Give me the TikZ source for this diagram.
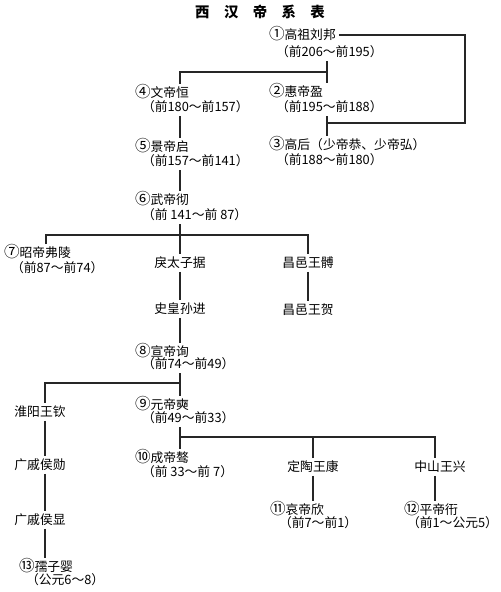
\documentclass[tikz,border=0pt]{standalone}
\usepackage{fontspec}
\newfontfamily\cjk{Noto Sans CJK SC}
\newcommand{\cnum}[1]{\smash{\fontsize{7.8}{7}\selectfont #1}}
\begin{document}
\begin{tikzpicture}[x=0.5pt,y=-0.5pt,
  lbl/.style={font=\cjk\fontsize{6.4}{7}\selectfont, inner sep=0pt, outer sep=1.5pt, anchor=west},
  ctr/.style={lbl, anchor=center},
  ln/.style={line width=0.7pt, black!85}]
\useasboundingbox[fill=white] (0,0) rectangle (500,592);
% title
\node[font=\cjk\bfseries\fontsize{7.2}{8}\selectfont, inner sep=0pt] (title) at (260,12) {西\hspace{1em}汉\hspace{1em}帝\hspace{1em}系\hspace{1em}表};
% column coordinates
\coordinate (colA) at (180,0);
\coordinate (colL) at (46,0);
\coordinate (colL2) at (45,0);
\coordinate (colD) at (435,0);
\coordinate (c3) at (327,123);
\coordinate (rc) at (465,123);
\coordinate (j1) at (327,72);
\coordinate (j6) at (180,235);
\coordinate (j8) at (180,383);
\coordinate (j9) at (180,437);
% nodes
\node[lbl] (n1) at (266,35) {\cnum{①}高祖刘邦};
\node[lbl] (d1) at (273,52) {（前206～前195）};
\node[lbl] (n2) at (266,92) {\cnum{②}惠帝盈};
\node[lbl] (d2) at (273,107) {（前195～前188）};
\node[lbl] (n3) at (266,145) {\cnum{③}高后（少帝恭、少帝弘）};
\node[lbl] (d3) at (273,160) {（前188～前180）};
\node[lbl] (n4) at (132,93) {\cnum{④}文帝恒};
\node[lbl] (d4) at (139,107) {（前180～前157）};
\node[lbl] (n5) at (132,147) {\cnum{⑤}景帝启};
\node[lbl] (d5) at (139,161) {（前157～前141）};
\node[lbl] (n6) at (132,200) {\cnum{⑥}武帝彻};
\node[lbl] (d6) at (139,215) {（前 141～前 87）};
\node[lbl] (n7) at (1,253) {\cnum{⑦}昭帝弗陵};
\node[lbl] (d7) at (8,268) {（前87～前74）};
\node[ctr] (lt) at (180,263) {戾太子据};
\node[ctr] (cy) at (308,263) {昌邑王髆};
\node[ctr] (sh) at (180,309) {史皇孙进};
\node[ctr] (ch) at (308,310) {昌邑王贺};
\node[lbl] (n8) at (132,352) {\cnum{⑧}宣帝询};
\node[lbl] (d8) at (139,364) {（前74～前49）};
\node[ctr] (hy) at (40,412) {淮阳王钦};
\node[lbl] (n9) at (132,405) {\cnum{⑨}元帝奭};
\node[lbl] (d9) at (139,418) {（前49～前33）};
\node[lbl] (n10) at (132,458) {\cnum{⑩}成帝骜};
\node[lbl] (d10) at (139,472) {（前 33～前 7）};
\node[ctr] (dt) at (313,467) {定陶王康};
\node[ctr] (zs) at (440,467) {中山王兴};
\node[lbl] (n11) at (267,510) {\cnum{⑪}哀帝欣};
\node[lbl] (d11) at (276,523) {（前7～前1）};
\node[lbl] (n12) at (401,510) {\cnum{⑫}平帝衎};
\node[lbl] (d12) at (404,523) {（前1～公元5）};
\node[ctr] (gx) at (40,465) {广戚侯勋};
\node[ctr] (gxx) at (40,520) {广戚侯显};
\node[lbl] (n13) at (16,567) {\cnum{⑬}孺子婴};
\node[lbl] (d13) at (23,580) {（公元6～8）};
% connectors
\draw[ln] (n1.east) -| (rc) -- (c3);
\draw[ln] (d1.south -| c3) -- (n2.north -| c3);
\draw[ln] (j1) -| (n4.north -| colA);
\draw[ln] (d2.south -| c3) -- (n3.north -| c3);
\draw[ln] (d4.south -| colA) -- (n5.north -| colA);
\draw[ln] (d5.south -| colA) -- (n6.north -| colA);
\draw[ln] (d6.south -| colA) -- (lt.north);
\draw[ln] (n7.north -| colL) |- (j6) -| (cy.north);
\draw[ln] (lt.south) -- (sh.north);
\draw[ln] (cy.south) -- (ch.north);
\draw[ln] (sh.south) -- (n8.north -| colA);
\draw[ln] (d8.south -| colA) -- (n9.north -| colA);
\draw[ln] (j8) -| (hy.north -| colL2);
\draw[ln] (hy.south -| colL2) -- (gx.north -| colL2);
\draw[ln] (gx.south -| colL2) -- (gxx.north -| colL2);
\draw[ln] (gxx.south -| colL2) -- (n13.north -| colL2);
\draw[ln] (d9.south -| colA) -- (n10.north -| colA);
\draw[ln] (j9) -- (colD |- j9) -- (zs.north -| colD);
\draw[ln] (dt.north) -- (dt.north |- j9);
\draw[ln] (dt.south) -- (dt.south |- n11.north);
\draw[ln] (zs.south -| colD) -- (n12.north -| colD);
\end{tikzpicture}
\end{document}
